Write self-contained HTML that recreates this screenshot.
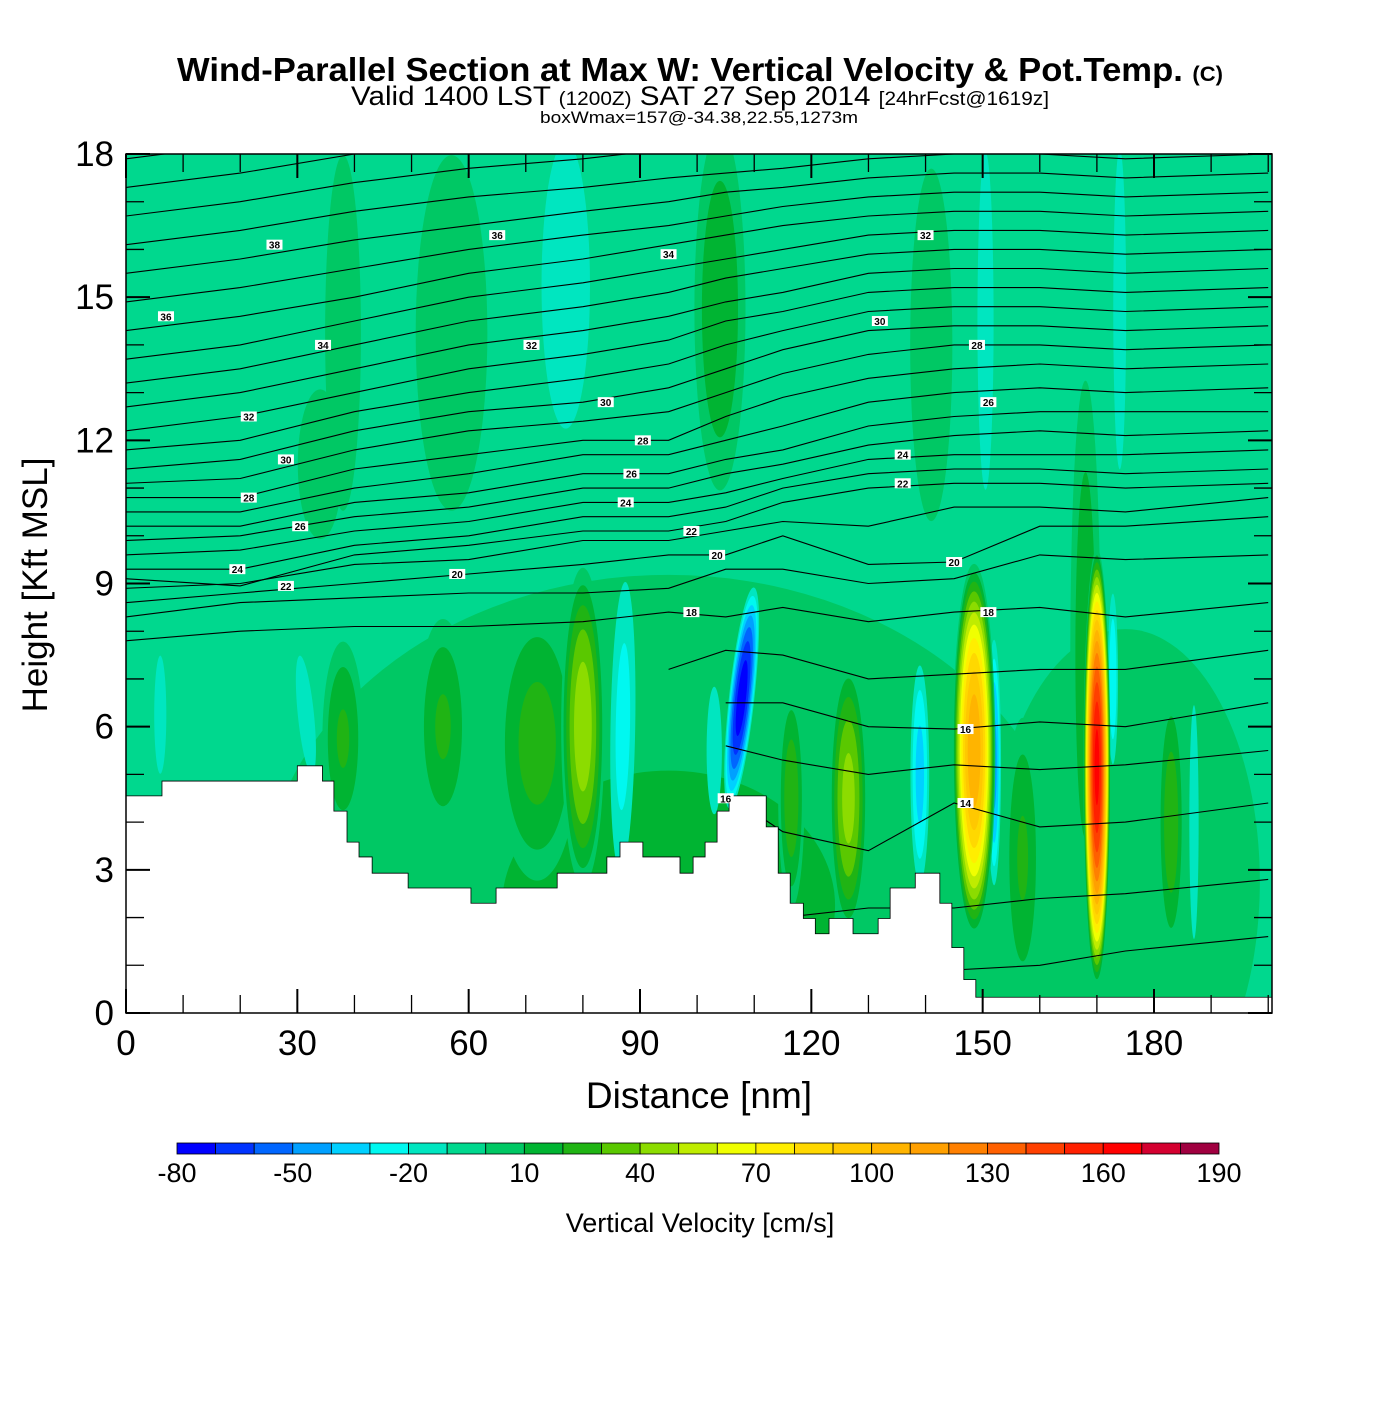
<!DOCTYPE html>
<html><head><meta charset="utf-8">
<style>
html,body{margin:0;padding:0;background:#fff;}
svg text{font-family:"Liberation Sans",sans-serif;}
</style></head>
<body>
<svg id="chart" width="1400" height="1400" viewBox="0 0 1400 1400" xmlns="http://www.w3.org/2000/svg">
<rect width="1400" height="1400" fill="#fff"/>
<text x="177" y="81" font-size="33" font-weight="bold" textLength="1046" lengthAdjust="spacingAndGlyphs">Wind-Parallel Section at Max W: Vertical Velocity &amp; Pot.Temp. <tspan font-size="21">(C)</tspan></text>
<text x="351" y="105" font-size="27" textLength="698" lengthAdjust="spacingAndGlyphs">Valid 1400 LST <tspan font-size="19">(1200Z)</tspan> SAT 27 Sep 2014 <tspan font-size="19">[24hrFcst@1619z]</tspan></text>
<text x="540" y="123" font-size="17" textLength="318" lengthAdjust="spacingAndGlyphs">boxWmax=157@-34.38,22.55,1273m</text>
<defs><clipPath id="plotclip"><rect x="126" y="154" width="1146" height="859"/></clipPath></defs>
<g id="plot" clip-path="url(#plotclip)"></g>
<g id="axes"></g>
<g id="cbar"></g>
<text x="699" y="1108" text-anchor="middle" font-size="37">Distance [nm]</text>
<text transform="translate(47,585) rotate(-90)" text-anchor="middle" font-size="35">Height [Kft MSL]</text>
<text x="700" y="1232" text-anchor="middle" font-size="27">Vertical Velocity [cm/s]</text>
</svg>
<script>
// ---- data ----
const cbarLevels = [-80,-70,-60,-50,-40,-30,-20,-10,0,10,20,30,40,50,60,70,80,90,100,110,120,130,140,150,160,170,180,190];
const cbarColors = ["#0000ff","#0033ff","#0066ff","#00a0ff","#00d0ff","#00f8f0","#00e6c0","#00d88e","#00c864","#00b432","#20b414","#5ac800","#8cdc00","#bfec00","#f0ff00","#ffee00","#ffd800","#ffc800","#ffb400","#ffa000","#ff8000","#ff6000","#ff4000","#ff2000","#ff0000","#d40030","#a00040"];
const cbarTickLabels = [-80,-50,-20,10,40,70,100,130,160,190];
const xTicks = [0,30,60,90,120,150,180];
const yTicks = [0,3,6,9,12,15,18];
const backgroundW = -5;
// w features (drawn in order): bottom x, top x, bottom y, top y (kft), half-width (nm), peak w (cm/s)
const featXb   = [95, 175, 38, 57, 34, 104, 141, 168, 77, 150.5, 174, 155, 131, 55.5, 72, 80, 38, 86.5, 33, 6, 103, 116.5, 126.5, 157, 183, 139, 152, 172.8, 187, 105.6, 148.5, 170];
const featXt   = [95, 175, 38, 57, 34, 104, 141, 168, 77, 150.5, 174, 155, 131, 55.5, 72, 80, 38, 87.5, 30, 6, 103, 116.5, 126.5, 157, 183, 139, 152, 172.8, 187, 110, 148.5, 170];
const featYb   = [-6, -4, 9.5, 9.5, 9.5, 10.5, 9, 1, 11, 9.5, 10, 14, 13, 3.5, 2.5, 2.5, 3.5, 2.5, 4.5, 4.5, 3, 2, 1.5, 0, 1, 2.5, 2.5, 5, 1, 4.2, 1.5, 0.5];
const featYt   = [10.5, 9.5, 19, 19, 13.5, 19, 19, 14, 19.5, 19.5, 19.5, 19.5, 19.5, 8.5, 8.8, 9.5, 8, 9.5, 8, 8, 8, 7, 7.5, 6.5, 7, 7.5, 8, 9, 7, 9, 9.5, 9.8];
const featW    = [85, 30, 4, 8, 5, 5, 5, 3, 6, 2, 1.6, 2, 4, 5, 8, 4, 4, 2.5, 2, 1.5, 2.5, 2.5, 3.5, 3.5, 2.5, 1.8, 1.3, 1, 1, 2.3, 3.8, 2.4];
const featPeak = [12, 8, 8, 8, 8, 20, 6, 18, -15, -15, -15, -10, -8, 22, 25, 48, 22, -25, -15, -15, -12, 28, 45, 22, 28, -35, -45, -30, -20, -78, 110, 165];
// potential temperature lines: levels and heights (kft) at node distances
const thetaX = [0,20,40,60,80,95,105,115,130,145,160,175,200];
const thetaLevels = [12,13,14,15,16,17,18,19,20,21,22,23,24,25,26,27,28,29,30,31,32,33,34,35,36,37,38,39,40,41,42];
const thetaH = [
 [null,null,null,null,null,null,null,1.0,1.0,0.9,1.0,1.3,1.6],
 [null,null,null,null,null,null,null,2.0,2.2,2.2,2.4,2.5,2.8],
 [null,null,null,null,null,null,4.6,3.8,3.4,4.4,3.9,4.0,4.4],
 [null,null,null,null,null,null,5.6,5.3,5.0,5.2,5.1,5.2,5.5],
 [null,null,null,null,null,null,6.5,6.5,6.0,5.95,6.1,6.0,6.5],
 [null,null,null,null,null,7.2,7.6,7.5,7.0,7.1,7.2,7.2,7.6],
 [7.8,8.0,8.1,8.1,8.2,8.4,8.3,8.5,8.2,8.4,8.5,8.3,8.6],
 [8.3,8.6,8.7,8.8,8.8,8.9,9.3,9.3,9.0,9.1,9.6,9.5,9.6],
 [8.6,8.8,9.0,9.2,9.4,9.6,9.6,10.0,9.4,9.45,10.2,10.2,10.4],
 [8.9,9.0,9.4,9.5,9.9,9.9,10.1,10.3,10.2,10.6,10.6,10.5,10.8],
 [9.1,8.95,9.6,9.8,10.1,10.1,10.3,10.7,11.0,11.1,11.1,11.0,11.1],
 [9.3,9.3,9.8,10.0,10.4,10.4,10.6,11.0,11.3,11.4,11.4,11.3,11.4],
 [9.6,9.7,10.1,10.3,10.7,10.7,10.9,11.2,11.6,11.7,11.7,11.7,11.8],
 [9.9,10.0,10.4,10.6,11.0,11.0,11.3,11.5,11.9,12.1,12.2,12.1,12.2],
 [10.2,10.2,10.7,10.9,11.3,11.3,11.6,11.8,12.3,12.5,12.6,12.6,12.6],
 [10.5,10.5,11.0,11.3,11.7,11.7,12.0,12.3,12.8,13.0,13.1,13.0,13.1],
 [10.8,10.8,11.4,11.7,12.0,12.0,12.5,12.9,13.3,13.5,13.6,13.5,13.6],
 [11.1,11.2,11.8,12.2,12.4,12.6,13.0,13.4,13.8,14.0,14.0,13.9,14.0],
 [11.4,11.6,12.2,12.6,12.8,13.1,13.5,13.9,14.3,14.4,14.4,14.3,14.4],
 [11.8,12.0,12.6,13.0,13.3,13.6,14.0,14.3,14.7,14.8,14.8,14.7,14.8],
 [12.2,12.5,13.0,13.5,13.8,14.1,14.5,14.7,15.1,15.2,15.2,15.1,15.2],
 [12.7,13.0,13.5,14.0,14.3,14.6,14.9,15.1,15.5,15.6,15.6,15.5,15.6],
 [13.2,13.5,14.0,14.5,14.8,15.1,15.4,15.6,15.9,16.0,16.0,15.9,16.0],
 [13.7,14.0,14.5,15.0,15.3,15.6,15.8,16.0,16.3,16.4,16.4,16.3,16.4],
 [14.3,14.6,15.0,15.5,15.8,16.1,16.3,16.5,16.7,16.8,16.8,16.7,16.8],
 [14.9,15.2,15.6,16.0,16.3,16.5,16.7,16.9,17.1,17.2,17.2,17.1,17.2],
 [15.5,15.8,16.2,16.5,16.8,17.0,17.2,17.3,17.5,17.6,17.6,17.5,17.6],
 [16.1,16.4,16.8,17.1,17.3,17.5,17.6,17.7,17.9,18.0,18.0,17.9,18.0],
 [16.7,17.0,17.4,17.7,17.9,18.1,18.2,18.2,18.3,18.4,18.4,18.3,18.4],
 [17.3,17.6,18.0,18.3,18.4,18.5,18.6,18.6,18.7,18.8,18.8,18.7,18.8],
 [17.9,18.2,18.5,18.8,18.9,19.0,19.0,19.0,19.1,19.2,19.2,19.1,19.2]
];
// label positions: level, distance, height
const thetaLabLevel = [38,36,34,32,30,28,26,24,22,20,36,34,32,30,28,26,24,22,20,18,16,32,30,28,26,24,22,20,18,16,14];
const thetaLabX     = [26,7,34.5,21.5,28,21.5,30.5,19.5,28,58,65,95,71,84,90.5,88.5,87.5,99,103.5,99,105,140,132,149,151,136,136,145,151,147,147];
const thetaLabY     = [16.1,14.6,14.0,12.5,11.6,10.8,10.2,9.3,8.95,9.2,16.3,15.9,14.0,12.8,12.0,11.3,10.7,10.1,9.6,8.4,4.5,16.3,14.5,14.0,12.8,11.7,11.1,9.45,8.4,5.95,4.4];
// terrain: step edges (nm) and heights (kft)
const terrainX = [0,6.3,30.0,34.4,36.4,38.7,40.8,43.1,49.4,60.4,64.8,75.5,84.2,86.5,90.5,97.0,99.3,101.4,103.5,105.6,112.1,114.2,116.3,118.6,120.7,123.1,127.3,131.7,133.8,138.2,142.5,144.6,146.7,148.8,200.7];
const terrainH = [4.55,4.86,5.18,4.86,4.23,3.58,3.27,2.93,2.62,2.30,2.62,2.93,3.27,3.58,3.27,2.93,3.27,3.58,4.23,4.55,3.90,2.93,2.30,1.98,1.66,1.98,1.66,1.98,2.62,2.93,2.30,1.37,0.70,0.33,0.33];

// ---- scales ----
const X0=126, X1=1272, Y0=1013, Y1=154;
const sx = d => X0 + d*(1154-126)/180;
const sy = h => Y0 - h*(Y0-Y1)/18;
const NS="http://www.w3.org/2000/svg";
function mk(tag, attrs, parent){const e=document.createElementNS(NS,tag);for(const k in attrs)e.setAttribute(k,attrs[k]);parent.appendChild(e);return e;}
function colorFor(v){let i=Math.floor((v-cbarLevels[0])/10);i=Math.max(0,Math.min(cbarColors.length-1,i));return cbarColors[i];}

const plot=document.getElementById('plot');
const bg=mk('rect',{x:X0,y:Y1,width:X1-X0,height:Y0-Y1,fill:colorFor(backgroundW)},plot);



featPeak.forEach((peak,i)=>{
  const cxb=sx(featXb[i]), cxt=sx(featXt[i]), cyb=sy(featYb[i]), cyt=sy(featYt[i]);
  const cx=(cxb+cxt)/2, cy=(cyb+cyt)/2;
  const len=Math.hypot(cxt-cxb,cyt-cyb)/2;
  const ang=Math.atan2(cxt-cxb, cyb-cyt)*180/Math.PI;
  const rw=featW[i]*(1154-126)/180;
  const g=mk('g',{transform:`translate(${cx},${cy}) rotate(${ang})`},plot);
  
  
  const b=backgroundW;
  const up=peak>b;
  const levels=[];
  for(const c of cbarLevels){ if(up? (c>b && c<peak) : (c<b && c>peak)) levels.push(c); }
  if(!up) levels.reverse();
  levels.forEach(c=>{
    const f=(c-b)/(peak-b);
    const r=Math.sqrt(1-f);
    const val = up ? c+5 : c-5;
    const el=mk('ellipse',{cx:0,cy:0,rx:rw*r,ry:len*r,fill:colorFor(val)},g);
    
    
  });
});

// theta lines
thetaLevels.forEach((lv,k)=>{
  let d='';let pen=false;
  thetaH[k].forEach((h,j)=>{
    if(h===null){pen=false;return;}
    d+=(pen?'L':'M')+sx(thetaX[j]).toFixed(1)+','+sy(h).toFixed(1);pen=true;
  });
  const p=mk('path',{d:d,fill:'none',stroke:'#000','stroke-width':1.1},plot);
  
  
});

// terrain
let td='M'+sx(terrainX[0])+','+sy(0);
for(let i=0;i<terrainH.length;i++){
  const xa=sx(terrainX[i]), xb=sx(i+1<terrainX.length?terrainX[i+1]:terrainX[i]);
  td+='L'+xa+','+sy(terrainH[i])+'L'+xb+','+sy(terrainH[i]);
}
td+='L'+X1+','+sy(0)+'Z';
const terr=mk('path',{d:td,fill:'#fff',stroke:'#000','stroke-width':0.8},plot);



// theta labels
thetaLabLevel.forEach((lv,i)=>{
  const x=sx(thetaLabX[i]), y=sy(thetaLabY[i]);
  const g=mk('g',{},plot);
  
  
  mk('rect',{x:x-8,y:y-5,width:16,height:10,fill:'#fff'},g);
  const t=mk('text',{x:x,y:y+4,'text-anchor':'middle','font-size':10,'font-weight':'bold'},g);
  t.textContent=lv;
});

// axes
const ax=document.getElementById('axes');
const frame=mk('rect',{x:X0,y:Y1,width:X1-X0,height:Y0-Y1,fill:'none',stroke:'#000','stroke-width':1.5},ax);


for(let d=0; d<=200; d+=10){
  const x=sx(d), major=(d%30===0), L=major?24:18;
  mk('line',{x1:x,y1:Y0,x2:x,y2:Y0-L,stroke:'#000','stroke-width':major?2:1.3},ax);
  mk('line',{x1:x,y1:Y1,x2:x,y2:Y1+L,stroke:'#000','stroke-width':major?2:1.3},ax);
}
for(let h=0; h<=18; h+=1){
  const y=sy(h), major=(h%3===0), L=major?24:18;
  mk('line',{x1:X0,y1:y,x2:X0+L,y2:y,stroke:'#000','stroke-width':major?2:1.3},ax);
  mk('line',{x1:X1,y1:y,x2:X1-L,y2:y,stroke:'#000','stroke-width':major?2:1.3},ax);
}
xTicks.forEach(d=>{
  const t=mk('text',{x:sx(d),y:1055,'text-anchor':'middle','font-size':35},ax);
  
  
  t.textContent=d;
});
yTicks.forEach(h=>{
  const t=mk('text',{x:114,y:sy(h)+12,'text-anchor':'end','font-size':35},ax);
  
  
  t.textContent=h;
});

// colorbar
const cb=document.getElementById('cbar');
const CB0=177, CB1=1219, bw=(CB1-CB0)/cbarColors.length;
cbarColors.forEach((c,i)=>{
  const r=mk('rect',{x:CB0+i*bw,y:1143,width:bw,height:11,fill:c,stroke:'#000','stroke-width':0.8},cb);
  
  
});
cbarTickLabels.forEach(v=>{
  const x=CB0+(v-cbarLevels[0])/10*bw;
  const t=mk('text',{x:x,y:1182,'text-anchor':'middle','font-size':27},cb);
  
  
  t.textContent=v;
});
</script>
</body></html>
